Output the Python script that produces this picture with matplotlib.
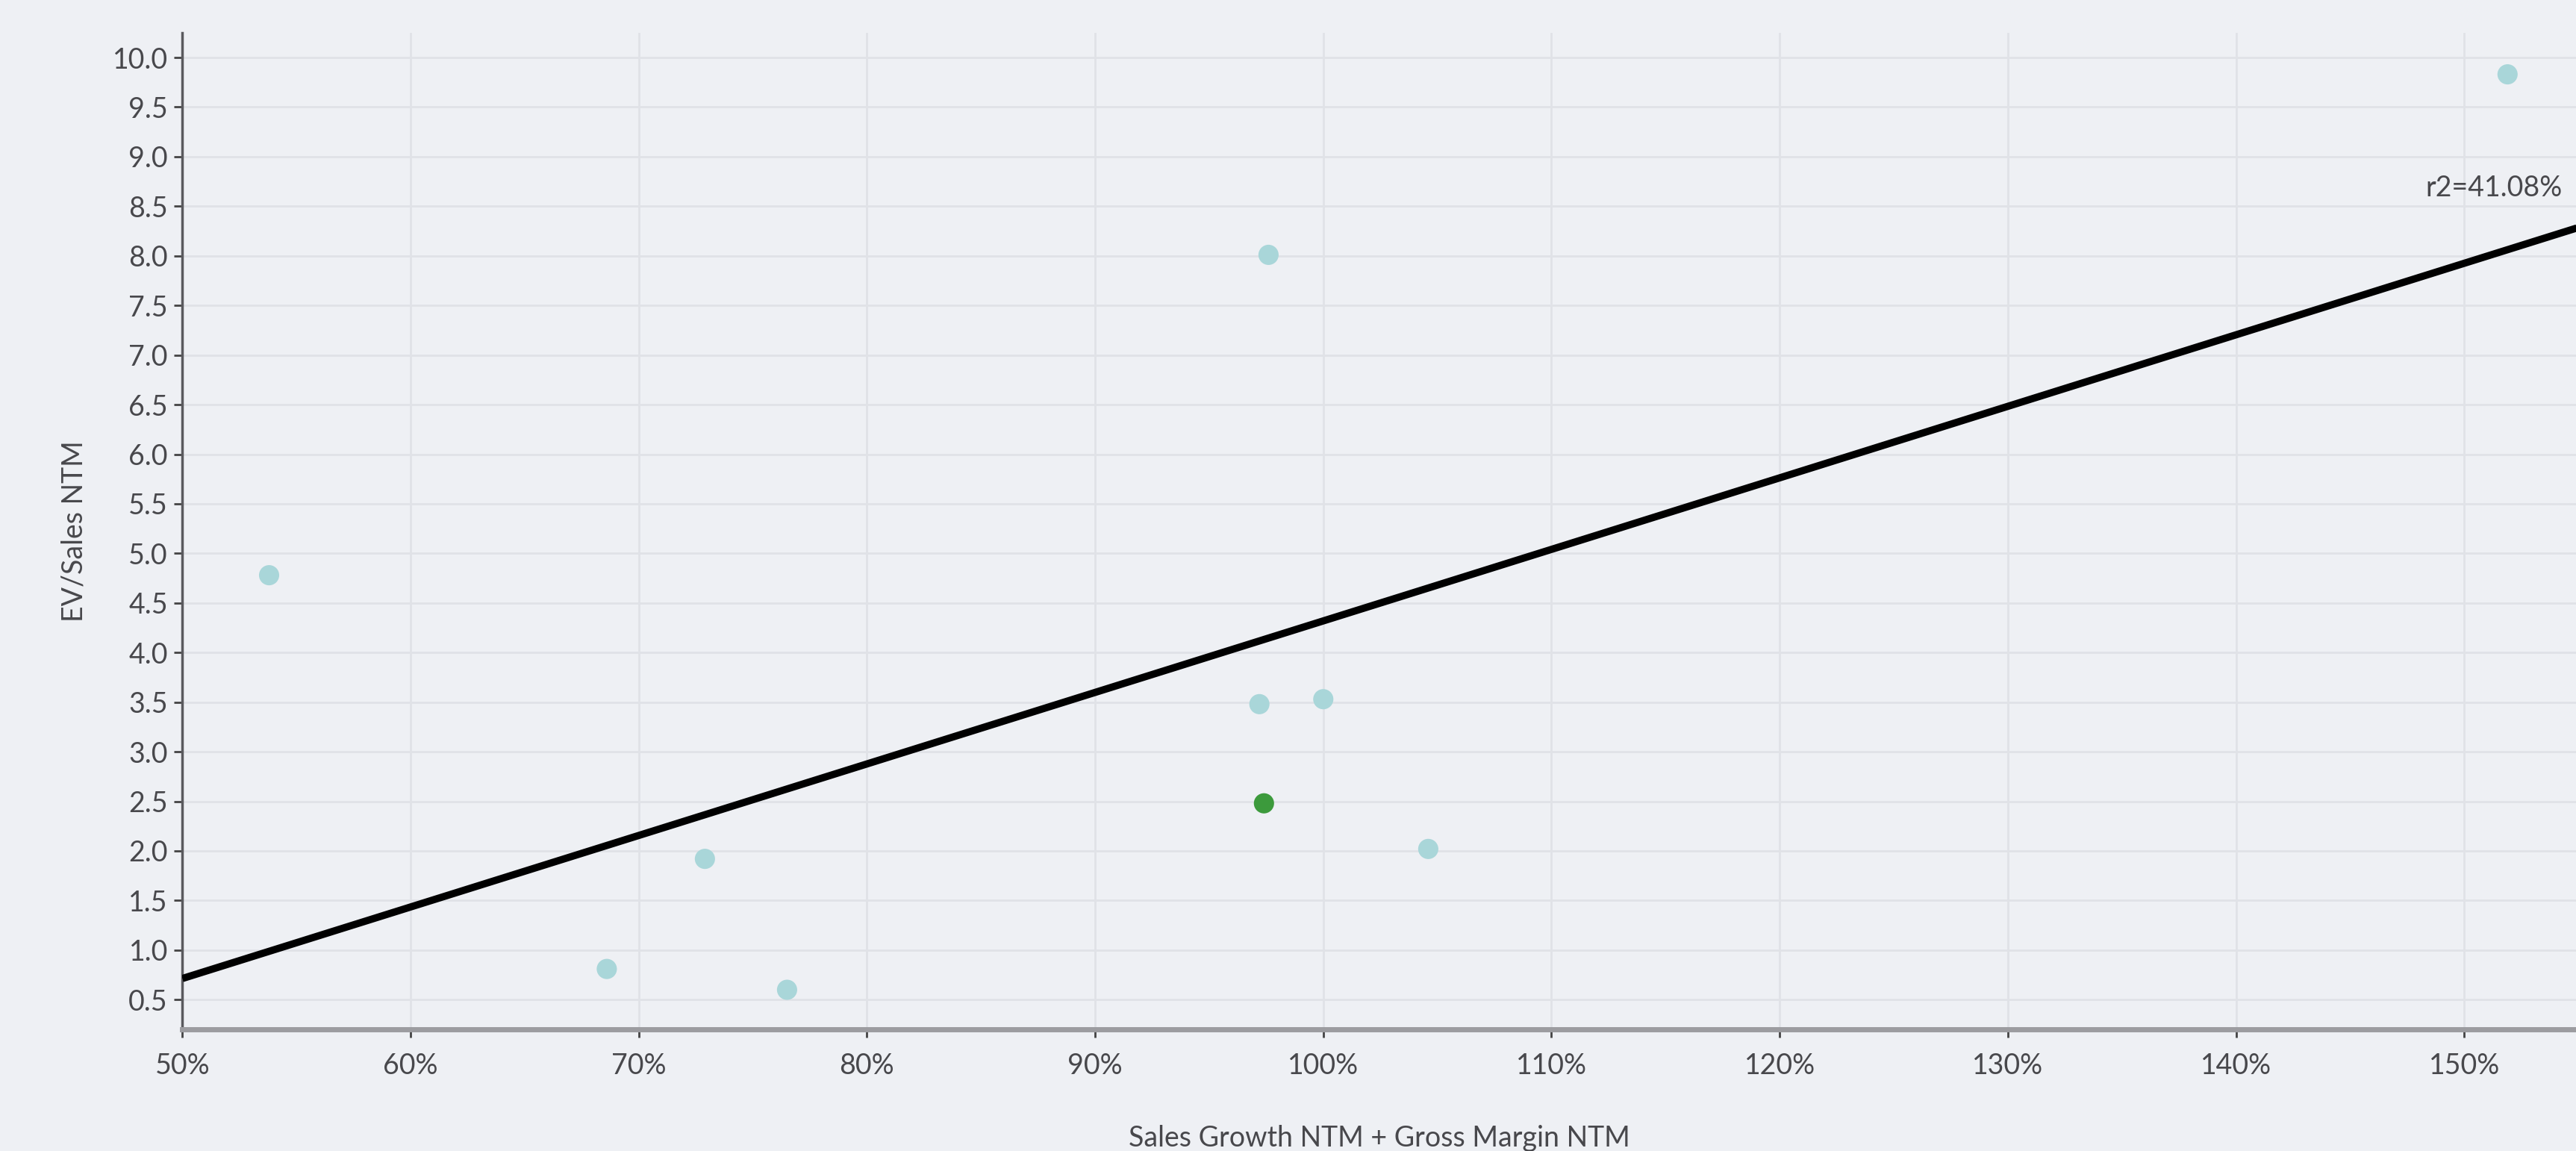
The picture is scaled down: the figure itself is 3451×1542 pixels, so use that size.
import numpy as np
import matplotlib
matplotlib.use("Agg")
import matplotlib.pyplot as plt
from matplotlib.ticker import FuncFormatter

# donnees (x en %, y = EV/Sales NTM)
peers_x = [53.8, 68.6, 72.9, 76.5, 97.6, 97.2, 100.0, 104.6, 151.9]
peers_y = [4.78, 0.81, 1.92, 0.60, 8.01, 3.48, 3.53, 2.02, 9.83]
target_x = [97.4]
target_y = [2.48]
r2_label = "r2=41.08%"

x_ticks = list(range(50, 151, 10))
y_ticks = [v / 2 for v in range(1, 21)]

plt.rcParams['font.family'] = ['Lato', 'DejaVu Sans']

bg = '#eef0f4'
txt = '#48484c'
fig = plt.figure(figsize=(34.51, 15.42), dpi=100, facecolor=bg)
ax = fig.add_axes([0.0708, 0.1056, 0.9292, 0.866])
ax.set_facecolor(bg)

# droite de regression sur tous les points
all_x = np.array(peers_x + target_x)
all_y = np.array(peers_y + target_y)
slope, intercept = np.polyfit(all_x, all_y, 1)
xl = np.array([50, 156])
ax.plot(xl, slope * xl + intercept, color='black', lw=7, zorder=3, solid_capstyle='butt')

ax.scatter(peers_x, peers_y, s=380, color='#a9d6d9', edgecolors='none', zorder=4)
ax.scatter(target_x, target_y, s=380, color='#3c9a3c', edgecolors='none', zorder=5)

ax.text(148.3, 8.68, r2_label, fontsize=27, color=txt,
        ha='left', va='center', zorder=6)

ax.set_xlim(50, 154.9)
ax.set_ylim(0.2, 10.25)
ax.set_xticks(x_ticks)
ax.set_yticks(y_ticks)
ax.xaxis.set_major_formatter(FuncFormatter(lambda v, p: f"{v:.0f}%"))
ax.yaxis.set_major_formatter(FuncFormatter(lambda v, p: f"{v:.1f}"))

ax.grid(True, color='#e0e2e7', lw=2)
ax.set_axisbelow(True)

for s in ['top', 'right']:
    ax.spines[s].set_visible(False)
ax.spines['left'].set_color('#5a5a5e')
ax.spines['left'].set_linewidth(2.5)
ax.spines['bottom'].set_color('#9c9ca0')
ax.spines['bottom'].set_linewidth(5)

ax.tick_params(axis='both', colors='#444444', labelcolor=txt, labelsize=27,
               length=8, width=2)
ax.tick_params(axis='x', pad=14)
ax.tick_params(axis='y', pad=6)

ax.set_ylabel("EV/Sales NTM", fontsize=27, color=txt, labelpad=24)
ax.set_xlabel("Sales Growth NTM + Gross Margin NTM", fontsize=27, color=txt, labelpad=44)

fig.savefig("out.png", dpi=100, facecolor=bg)
